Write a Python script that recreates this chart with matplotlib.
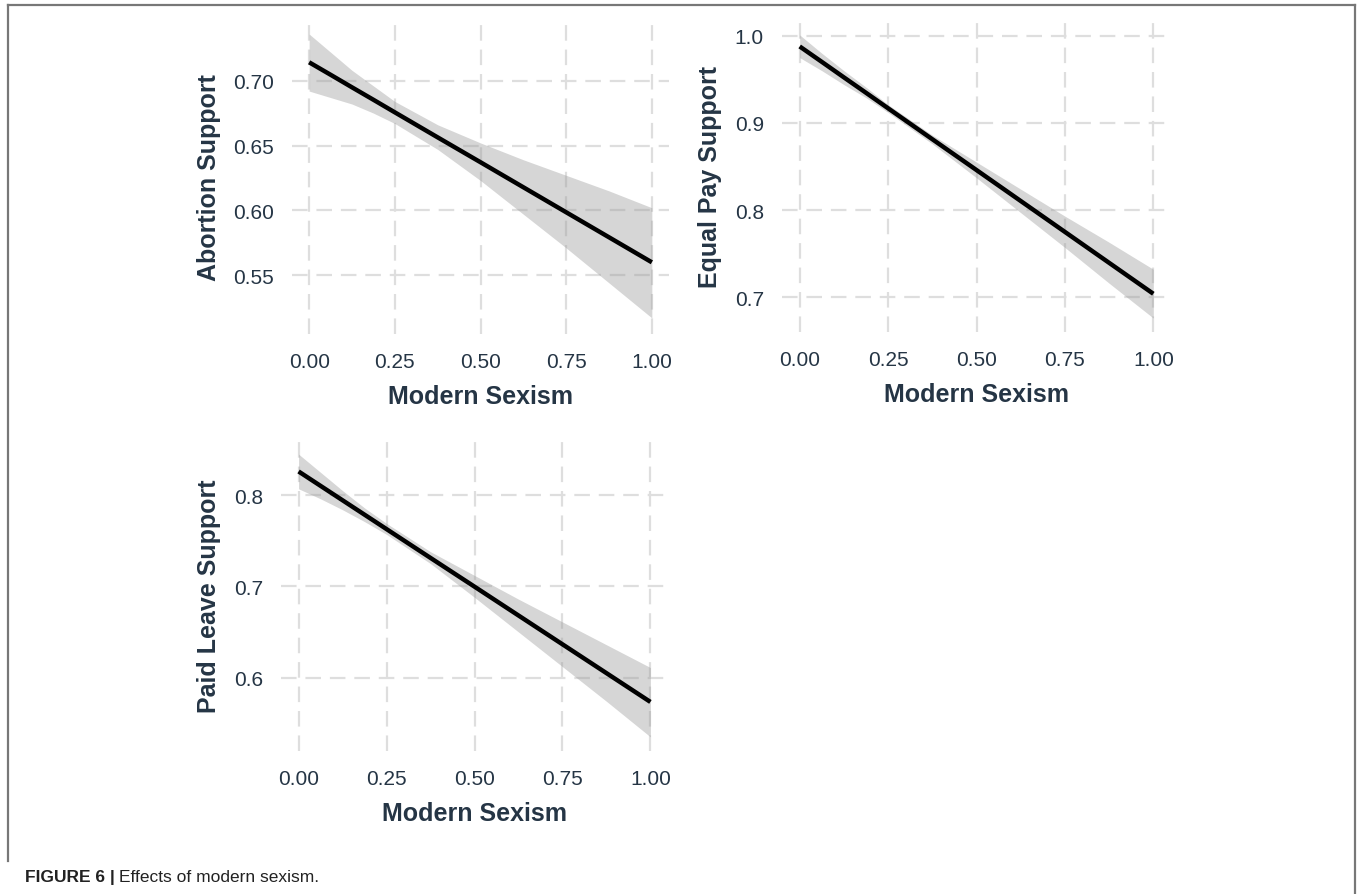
"""
Effects of modern sexism: three regression lines with confidence bands
"""

import matplotlib.pyplot as plt
from matplotlib.lines import Line2D

plt.rcParams["font.family"] = ["Liberation Sans", "DejaVu Sans"]

W, H = 1357, 895

# values
sexism = [0.0, 0.0625, 0.125, 0.1875, 0.25, 0.375, 0.5, 0.625, 0.75, 0.875, 1.0]
x_ticks = [0.0, 0.25, 0.5, 0.75, 1.0]
x_ticklabels = ["0.00", "0.25", "0.50", "0.75", "1.00"]

abortion_fit = [0.7142, 0.7046, 0.6949, 0.6853, 0.6756, 0.6563, 0.6371, 0.6178, 0.5985, 0.5792, 0.5599]
abortion_hi = [0.736, 0.722, 0.708, 0.696, 0.684, 0.666, 0.652, 0.639, 0.627, 0.615, 0.602]
abortion_lo = [0.692, 0.687, 0.682, 0.675, 0.667, 0.647, 0.623, 0.597, 0.571, 0.544, 0.517]
abortion_yticks = [0.55, 0.60, 0.65, 0.70]
abortion_yticklabels = ["0.55", "0.60", "0.65", "0.70"]

equalpay_fit = [0.9878, 0.9701, 0.9523, 0.9346, 0.9168, 0.8813, 0.8459, 0.8104, 0.7749, 0.7394, 0.7039]
equalpay_hi = [1.001, 0.980, 0.960, 0.941, 0.921, 0.886, 0.855, 0.824, 0.793, 0.763, 0.732]
equalpay_lo = [0.975, 0.960, 0.944, 0.929, 0.912, 0.876, 0.837, 0.797, 0.757, 0.716, 0.676]
equalpay_yticks = [0.7, 0.8, 0.9, 1.0]
equalpay_yticklabels = ["0.7", "0.8", "0.9", "1.0"]

leave_fit = [0.826, 0.8102, 0.7944, 0.7786, 0.7628, 0.7312, 0.6997, 0.6681, 0.6365, 0.6049, 0.5733]
leave_hi = [0.845, 0.825, 0.805, 0.786, 0.769, 0.738, 0.712, 0.686, 0.661, 0.636, 0.611]
leave_lo = [0.807, 0.796, 0.784, 0.771, 0.757, 0.725, 0.688, 0.650, 0.612, 0.574, 0.535]
leave_yticks = [0.6, 0.7, 0.8]
leave_yticklabels = ["0.6", "0.7", "0.8"]

text_col = "#253545"
grid_col = "#dedede"

fig = plt.figure(figsize=(W / 100, H / 100), dpi=100)


def px_axes(left, top, right, bottom):
    return fig.add_axes([left / W, 1 - bottom / H, (right - left) / W, (bottom - top) / H])


def panel(ax, fit, lo, hi, yticks, yticklabels, ylabel, ylim):
    ax.fill_between(sexism, lo, hi, color="#999999", alpha=0.4, linewidth=0, zorder=2)
    ax.plot(sexism, fit, "-", color="black", linewidth=3.2, zorder=3, solid_capstyle="butt")
    ax.set_xlim(-0.05, 1.05)
    ax.set_ylim(*ylim)
    ax.set_xticks(x_ticks)
    ax.set_xticklabels(x_ticklabels)
    ax.set_yticks(yticks)
    ax.set_yticklabels(yticklabels)
    ax.grid(True, color=grid_col, linewidth=1.6, linestyle=(0, (7, 4)), zorder=1)
    ax.set_axisbelow(True)
    for s in ax.spines.values():
        s.set_visible(False)
    ax.tick_params(length=0, labelsize=15, labelcolor=text_col, pad=13)
    ax.set_xlabel("Modern Sexism", fontsize=18, fontweight="bold", color=text_col, labelpad=9)
    ax.set_ylabel(ylabel, fontsize=18, fontweight="bold", color=text_col, labelpad=9)


ax1 = px_axes(292, 20, 669, 335)
panel(ax1, abortion_fit, abortion_lo, abortion_hi, abortion_yticks,
      abortion_yticklabels, "Abortion Support", (0.5046, 0.7476))

ax2 = px_axes(782, 22, 1171, 333)
panel(ax2, equalpay_fit, equalpay_lo, equalpay_hi, equalpay_yticks,
      equalpay_yticklabels, "Equal Pay Support", (0.660, 1.017))

ax3 = px_axes(281, 441, 668, 752)
panel(ax3, leave_fit, leave_lo, leave_hi, leave_yticks,
      leave_yticklabels, "Paid Leave Support", (0.5195, 0.8605))

# page frame
frame_kw = dict(color="#777777", linewidth=1.6, transform=fig.transFigure)
fig.lines.append(Line2D([7.5 / W, 1354.5 / W], [1 - 6 / H, 1 - 6 / H], **frame_kw))
fig.lines.append(Line2D([7.5 / W, 7.5 / W], [1 - 6 / H, 1 - 862 / H], **frame_kw))
fig.lines.append(Line2D([1354.5 / W, 1354.5 / W], [1 - 6 / H, 0], **frame_kw))

# caption
t = fig.text(25 / W, 1 - 878 / H, "FIGURE 6 |", fontsize=12.5, fontweight="bold",
             color="#222222", va="center")
fig.canvas.draw()
bb = t.get_window_extent()
fig.text(bb.x1 / W + 4 / W, 1 - 878 / H, "Effects of modern sexism.", fontsize=12.5,
         color="#222222", va="center")

fig.savefig("out.png", dpi=100)
